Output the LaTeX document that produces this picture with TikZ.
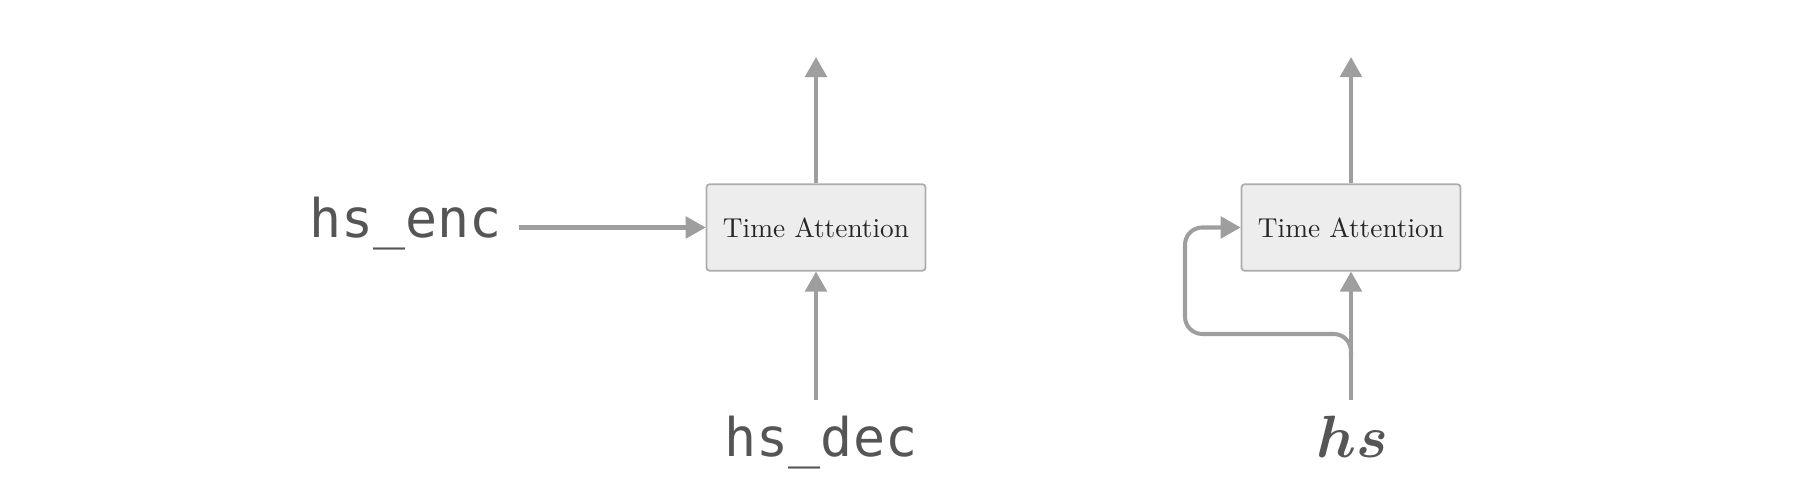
\documentclass[tikz,border=0pt]{standalone}
\usepackage{amsmath}
\usepackage{bm}
\usepackage{fontspec}
\setmonofont{DejaVu Sans Mono}
\usetikzlibrary{arrows.meta,positioning}
\definecolor{arrgray}{HTML}{9E9E9E}
\definecolor{boxfill}{HTML}{EDEDED}
\definecolor{boxline}{HTML}{ACACAC}
\definecolor{labgray}{HTML}{555555}

\begin{document}
\begin{tikzpicture}[x=0.0122cm,y=-0.0122cm,
    attn/.style={draw=boxline,fill=boxfill,rounded corners=1pt,line width=0.6pt,
        minimum width=76pt,minimum height=30pt,inner sep=0pt,text=black!85,font=\fontsize{9.5}{11}\selectfont},
    link/.style={draw=arrgray,line width=1.4pt,-{Triangle[length=7pt,width=7.5pt]}},
    inlab/.style={inner sep=0pt,text=labgray,font=\fontsize{18}{20}\selectfont}]
\useasboundingbox (0,0) rectangle (1814,502);
% left block
\node[attn] (ta1) at (816,227.5) {Time Attention};
\node[inlab,anchor=base east,font=\fontsize{18.5}{20}\ttfamily] (enc) at (502,238) {hs\_enc};
\node[inlab,anchor=base,font=\fontsize{18.5}{20}\ttfamily] (dec) at (821,457) {hs\_dec};
\coordinate (decin) at (816,400);
\coordinate (out1) at (816,57);
\draw[link]
    ([xshift=6pt]enc.east|-ta1.west) -- (ta1.west);
\draw[link] (decin) -- (ta1.south);
\draw[link] (ta1.north) -- (out1);
% right block
\node[attn] (ta2) at (1351,227.5) {Time Attention};
\node[inlab,anchor=base,font=\fontsize{19.5}{21}\selectfont] (hs) at (1352,458) {$\bm{hs}$};
\coordinate (hsin) at (1351,400);
\coordinate (split) at (1351,357);
\coordinate (out2) at (1351,57);
\draw[link] (hsin) -- (ta2.south);
\draw[link] (ta2.north) -- (out2);
\draw[link,rounded corners=6pt]
    (split) |- (1185,334) |- (ta2.west);
\end{tikzpicture}
\end{document}
